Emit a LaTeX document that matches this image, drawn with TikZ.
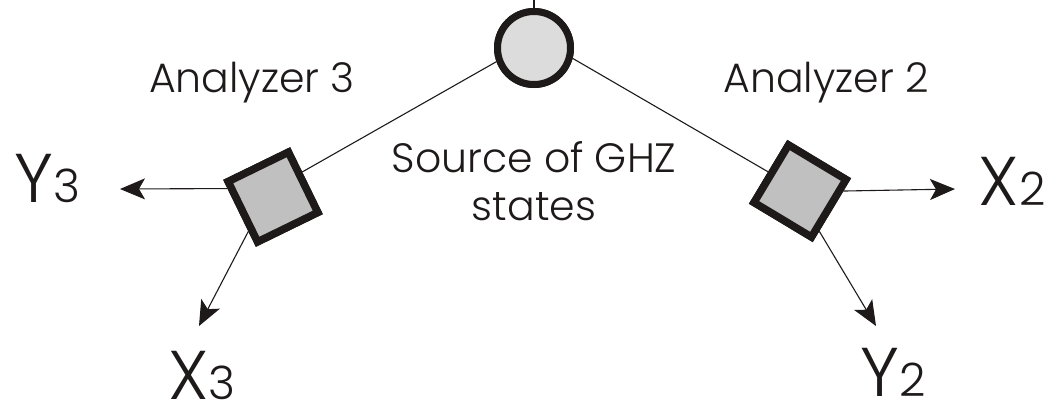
\documentclass[tikz,border=0pt]{standalone}
\usepackage{fontspec}
\IfFontExistsTF{Poppins Light}{\setmainfont{Poppins Light}}{\setmainfont{Poppins}}
\usetikzlibrary{arrows.meta,calc}
\definecolor{ink}{RGB}{30,26,26}
\definecolor{srcfill}{RGB}{220,220,220}
\definecolor{boxfill}{RGB}{192,192,192}
\begin{document}
\begin{tikzpicture}[x=1pt,y=-1pt,
  wire/.style={draw=ink,line width=1.1pt},
  arr/.style={wire,-{Stealth[length=25pt,width=21pt,inset=6pt]}},
  srcnode/.style={circle,draw=ink,fill=srcfill,line width=7pt,minimum size=73pt,inner sep=0pt},
  boxnode/.style={rectangle,draw=ink,fill=boxfill,line width=7.5pt,minimum size=67pt,inner sep=0pt},
  lbl/.style={font=\fontsize{41}{48}\selectfont,text=ink,inner sep=0pt},
  outlbl/.style={text=ink,inner sep=0pt,anchor=base}
]
\path[use as bounding box] (0,0) rectangle (1049,408);
% nodes
\node[srcnode] (src) at (534,48) {};
\node[boxnode,rotate=26] (a3) at (273,197) {};
\node[boxnode,rotate=-31] (a2) at (800,191) {};
% labels
\node[lbl,anchor=base] (t3) at (252,92) {Analyzer 3};
\node[lbl,anchor=base] (t2) at (826,92) {Analyzer 2};
\node[lbl,anchor=base,align=center] (ts) at (534,220) {Source of GHZ\\states};
\node[outlbl] (y3) at (47,202) {\fontsize{69}{69}\selectfont Y\fontsize{46}{46}\selectfont 3};
\node[outlbl] (x3) at (202,399) {\fontsize{69}{69}\selectfont X\fontsize{46}{46}\selectfont 3};
\node[outlbl] (x2) at (1012,205) {\fontsize{69}{69}\selectfont X\fontsize{46}{46}\selectfont 2};
\node[outlbl] (y2) at (893,396) {\fontsize{69}{69}\selectfont Y\fontsize{46}{46}\selectfont 2};
% arrow end points
\coordinate (topend) at (534,-2);
\coordinate (y3tip) at (120,189);
\coordinate (x3tip) at (199,326);
\coordinate (x2tip) at (955,189);
\coordinate (y2tip) at (876,326);
% connectors
\draw[wire] (src.north) -- (topend);
\draw[wire] (src.200) -- ($(a3.north east)!0.37!(a3.south east)$);
\draw[wire] (src.345) -- ($(a2.north west)!0.5!(a2.south west)$);
\draw[arr] ($(a3.north west)!0.13!(a3.south west)$) -- (y3tip);
\draw[arr] ($(a3.north west)!0.77!(a3.south west)$) -- (x3tip);
\draw[arr] ($(a2.north east)!0.2!(a2.south east)$) -- (x2tip);
\draw[arr] ($(a2.north east)!0.83!(a2.south east)$) -- (y2tip);
% shapes redrawn on top of the connectors
\node[srcnode] at (src) {};
\node[boxnode,rotate=26] at (a3) {};
\node[boxnode,rotate=-31] at (a2) {};
\end{tikzpicture}
\end{document}
